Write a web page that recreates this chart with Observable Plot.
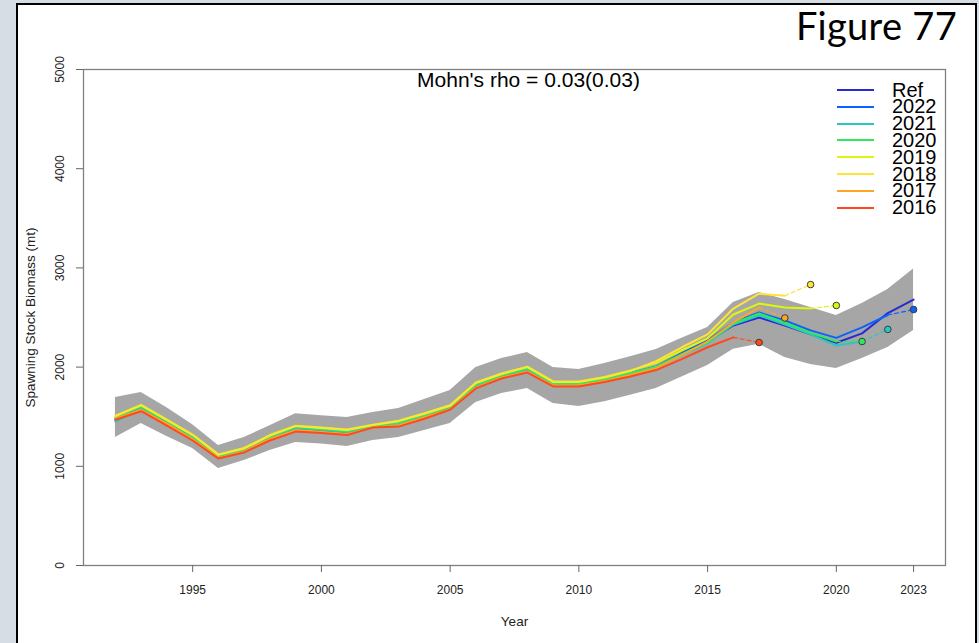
<!DOCTYPE html>
<html>
<head>
<meta charset="utf-8">
<script src="https://cdn.jsdelivr.net/npm/d3@7"></script>
<script src="https://cdn.jsdelivr.net/npm/@observablehq/plot@0.6"></script>
<style>
  html, body { margin: 0; padding: 0; }
  body { width: 979px; height: 643px; background: #d6dde5; position: relative; overflow: hidden; font-family: "Liberation Sans", Arial, sans-serif; }
  #box { position: absolute; left: 16px; top: 3px; width: 957px; height: 700px; border: 2px solid #000; background: #fff; }
  #chart { position: absolute; left: 0; top: 0; }
  #fig { position: absolute; right: 22px; top: 6px; font-family: Lato, "Open Sans", sans-serif; font-size: 38px; line-height: 38px; color: #000; letter-spacing: 0.3px; }
  #legend { position: absolute; left: 837px; top: 81.6px; }
  .row { display: flex; align-items: center; height: 16.8px; }
  .row span { margin-left: 18px; font-size: 20px; line-height: 16.8px; color: #000; }
</style>
</head>
<body>
<div id="box"></div>
<div id="chart"></div>
<div id="fig">Figure 77</div>
<div id="legend"></div>
<script>
// ---- data ----
const years = [1992,1993,1994,1995,1996,1997,1998,1999,2000,2001,2002,2003,2004,2005,2006,2007,
               2008,2009,2010,2011,2012,2013,2014,2015,2016,2017,2018,2019,2020,2021,2022,2023];
const refSSB = [1470,1590,1440,1290,1095,1165,1290,1385,1365,1345,1400,1430,1510,1590,1815,1910,
                1975,1830,1825,1875,1935,2000,2130,2260,2420,2500,2420,2330,2245,2340,2545,2680];
const ciUpper = [1694,1744,1590,1420,1210,1290,1408,1530,1510,1492,1542,1583,1673,1764,1996,2087,
                 2147,1996,1976,2036,2105,2177,2290,2400,2651,2752,2681,2601,2520,2641,2782,2990];
const ciLower = [1290,1431,1300,1180,978,1058,1160,1240,1225,1200,1260,1290,1361,1431,1643,1734,
                 1784,1633,1603,1650,1715,1784,1900,2016,2180,2230,2097,2026,1986,2087,2197,2369];

const peel2022 = [1475,1595,1445,1295,1100,1170,1295,1390,1370,1350,1405,1435,1515,1595,1820,1915,
                  1980,1835,1830,1880,1940,2005,2140,2270,2450,2550,2470,2370,2295,2400,2525];
const peel2021 = [1450,1580,1435,1290,1095,1165,1290,1385,1365,1345,1400,1430,1510,1590,1815,1910,
                  1975,1830,1825,1870,1930,1995,2120,2240,2430,2520,2430,2330,2218,2258];
const peel2020 = [1490,1600,1455,1305,1105,1175,1300,1395,1375,1355,1410,1440,1520,1600,1825,1920,
                  1985,1840,1835,1880,1940,2005,2130,2250,2440,2540,2450,2345,2258];
const peel2019 = [1510,1620,1470,1320,1120,1185,1315,1410,1390,1370,1420,1460,1535,1615,1845,1935,
                  2005,1855,1855,1900,1965,2040,2170,2290,2530,2640,2600,2590];
const peel2018 = [1505,1615,1465,1315,1115,1180,1310,1405,1385,1365,1415,1455,1530,1610,1840,1930,
                  2000,1850,1850,1895,1960,2060,2200,2330,2590,2740,2720];
const peel2017 = [1480,1570,1430,1275,1085,1150,1275,1365,1345,1325,1390,1415,1495,1575,1795,1895,
                  1955,1815,1815,1860,1920,1990,2120,2260,2450,2600];
const peel2016 = [1470,1555,1410,1260,1078,1140,1260,1350,1335,1315,1390,1400,1480,1570,1785,1885,
                  1945,1805,1805,1850,1905,1970,2080,2200,2300];

const seriesNames = ["Ref","2022","2021","2020","2019","2018","2017","2016"];
const seriesColors = ["#2a2ad4","#0b63ff","#2cc6bf","#2eea5a","#dcf70c","#ffe23a","#ffa526","#ff4a1c"];
const peelEndYears = [2022,2021,2020,2019,2018,2017,2016];
const peelProjection = [2580,2380,2258,2621,2832,2495,2248]; // value at end year + 1

const xTicks = [1995,2000,2005,2010,2015,2020,2023];
const yTicks = [0,1000,2000,3000,4000,5000];
const rhoText = "Mohn's rho = 0.03(0.03)";

// ---- build tables ----
const band = years.map((y,i) => ({year: y, lo: ciLower[i], hi: ciUpper[i]}));
const peels = [peel2022, peel2021, peel2020, peel2019, peel2018, peel2017, peel2016];
const refRows = years.map((y,i) => ({year: y, v: refSSB[i]}));
const peelRows = peels.map(arr => arr.map((v,i) => ({year: years[i], v})));
const dashRows = peels.map((arr,k) => [
  {year: peelEndYears[k], v: arr[arr.length-1]},
  {year: peelEndYears[k] + 1, v: peelProjection[k]}
]);
const dotRows = peels.map((arr,k) => ({year: peelEndYears[k] + 1, v: peelProjection[k], c: seriesColors[k+1]}));

const marks = [
  Plot.areaY(band, {x: "year", y1: "lo", y2: "hi", fill: "#a6a6a6"}),
  Plot.line(refRows, {x: "year", y: "v", stroke: seriesColors[0], strokeWidth: 2})
];
peelRows.forEach((rows,k) => {
  marks.push(Plot.line(rows, {x: "year", y: "v", stroke: seriesColors[k+1], strokeWidth: 2}));
});
dashRows.forEach((rows,k) => {
  marks.push(Plot.line(rows, {x: "year", y: "v", stroke: seriesColors[k+1], strokeWidth: 1.2, strokeDasharray: "4,3"}));
});
marks.push(Plot.dot(dotRows, {x: "year", y: "v", r: 3.3, fill: d => d.c, stroke: "#3a3a3a", strokeWidth: 1}));
marks.push(
  Plot.frame({stroke: "#808080", strokeWidth: 1.3}),
  Plot.axisX({ticks: xTicks, tickSize: 7, tickPadding: 13, tickFormat: d => String(d), label: null, stroke: "#666", fill: "#222"}),
  Plot.axisY({ticks: yTicks, tickSize: 7, tickFormat: () => "", label: null, stroke: "#666"}),
  Plot.text(yTicks, {y: d => d, text: d => String(d), frameAnchor: "left", textAnchor: "middle", lineAnchor: "middle", dx: -23, rotate: -90, fill: "#222"}),
  Plot.text(["Spawning Stock Biomass (mt)"], {frameAnchor: "left", textAnchor: "middle", lineAnchor: "middle", dx: -53, rotate: -90, fontSize: 13.5, fill: "#222"}),
  Plot.text(["Year"], {frameAnchor: "bottom", lineAnchor: "middle", dy: 56, fontSize: 13.5, fill: "#222"}),
  Plot.text([rhoText], {frameAnchor: "top", lineAnchor: "middle", dx: 14, dy: 11, fontSize: 21, fill: "#000"})
);

const chart = Plot.plot({
  width: 979,
  height: 643,
  marginLeft: 83,
  marginRight: 34,
  marginTop: 69,
  marginBottom: 78,
  style: {background: "transparent", fontFamily: "'Liberation Sans', Arial, sans-serif", fontSize: "12px", overflow: "visible"},
  x: {domain: [1990.76, 2024.24]},
  y: {domain: [0, 5000]},
  marks
});
document.getElementById("chart").appendChild(chart);

// legend
const leg = document.getElementById("legend");
seriesNames.forEach((name, i) => {
  const row = document.createElement("div");
  row.className = "row";
  row.innerHTML = `<svg width="37" height="4"><line x1="0" y1="2" x2="37" y2="2" stroke="${seriesColors[i]}" stroke-width="2"/></svg><span>${name}</span>`;
  leg.appendChild(row);
});
</script>
</body>
</html>
